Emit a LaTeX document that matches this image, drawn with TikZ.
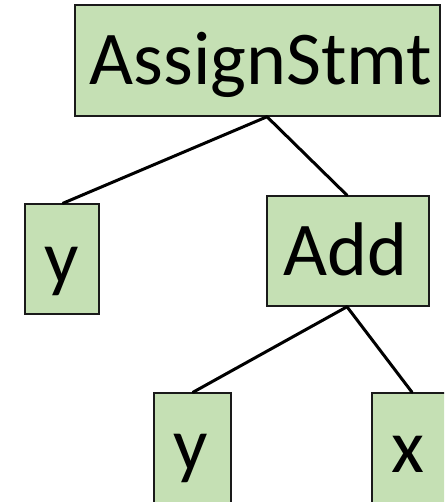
\documentclass[tikz,border=0pt]{standalone}
\usepackage{fontspec}
\setmainfont{Carlito}
\definecolor{boxfill}{HTML}{C5E0B4}
\definecolor{boxline}{HTML}{1A1A1A}
\tikzset{
  treebox/.style={draw=boxline, fill=boxfill, line width=1.5pt, inner sep=0pt, rectangle},
  label text/.style={inner sep=0pt, anchor=base, font=\fontsize{76}{76}\selectfont},
  edge/.style={line width=3pt, draw=black, line cap=round}
}
\begin{document}
\begin{tikzpicture}[x=1pt, y=-1pt]
  \useasboundingbox (0,0) rectangle (444,502);
  \clip (0,0) rectangle (444,502);
  % boxes of the tree
  \node[treebox, minimum width=365pt, minimum height=111pt] (root) at (257.5,60.5) {};
  \node[treebox, minimum width=74pt, minimum height=110pt] (yleft) at (62,259) {};
  \node[treebox, minimum width=162pt, minimum height=110pt] (add) at (348,251) {};
  \node[treebox, minimum width=77pt, minimum height=130pt] (ybot) at (192.5,458) {};
  \node[treebox, minimum width=80pt, minimum height=130pt] (xbot) at (412,458) {};
  % attachment points of the edges
  \coordinate (rootB) at ([xshift=9.5pt]root.south);
  \coordinate (yleftT) at ([xshift=1pt]yleft.north);
  \coordinate (addT) at ([xshift=-1pt]add.north);
  \coordinate (addB) at ([xshift=-1pt]add.south);
  \coordinate (ybotT) at ([xshift=0.5pt]ybot.north);
  \coordinate (xbotT) at (xbot.north);
  % edges
  \draw[edge] (rootB) -- (yleftT);
  \draw[edge] (rootB) -- (addT);
  \draw[edge] (addB) -- (ybotT);
  \draw[edge] (addB) -- (xbotT);
  % labels
  \node[label text] (troot) at (261,85) {AssignStmt};
  \node[label text] (tadd) at (345.5,275) {Add};
  \node[label text] (tyleft) at (62,283) {y};
  \node[label text] (tybot) at (191,470) {y};
  \node[label text] (txbot) at (408,472) {x};
\end{tikzpicture}
\end{document}
